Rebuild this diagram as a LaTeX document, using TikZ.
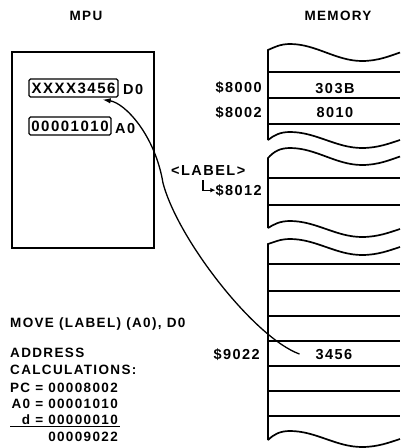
\documentclass[tikz,border=0pt]{standalone}
\usepackage{fontspec}
\setmainfont{Liberation Sans}[LetterSpace=10]
\usetikzlibrary{arrows.meta}
\newcommand\mwave[3]{% #1 mid, #2 amplitude, #3 left y
 (268,#3) .. controls (274,#1-0.6*#2) and (280,#1-#2) .. (290,#1-#2)
 .. controls (316,#1-#2) and (336,#1+#2) .. (362,#1+#2)
 .. controls (378,#1+#2) and (390,#1+0.4*#2) .. (400,#1)}
\begin{document}
\begin{tikzpicture}[x=1pt,y=-1pt,
  txt/.style={inner sep=0pt,font=\fontsize{13.5}{15}\selectfont\bfseries},
  big/.style={inner sep=0pt,font=\fontsize{14.5}{16}\selectfont\bfseries},
  regbox/.style={draw,line width=1.3pt,rounded corners=1.5pt,inner sep=0pt,
     minimum height=18pt,font=\fontsize{15}{17}\selectfont\bfseries},
  mem/.style={line width=1.7pt},
  link/.style={line width=1.3pt,-{Latex[length=8pt,width=5.5pt]}},
  hook/.style={line width=1.3pt,-{Latex[length=5pt,width=4.5pt]}}]
\useasboundingbox (0,0) rectangle (400,448);
% titles
\node[txt,anchor=base] (tmpu) at (86,20) {MPU};
\node[txt,anchor=base] (tmem) at (338,20) {MEMORY};
% MPU box
\draw[line width=1.5pt] (12,52) rectangle (154,248);
\node[regbox,minimum width=89pt] (d0box) at (73.5,88) {XXXX3456};
\node[big,anchor=base west] (d0) at (123,94) {D0};
\node[regbox,minimum width=82pt] (a0box) at (70,126) {00001010};
\node[big,anchor=base west] (a0) at (115,133) {A0};
% memory section 1
\draw[mem] (268,140) -- \mwave{52.5}{8.5}{50};
\draw[mem] \mwave{140}{8}{140};
\foreach \yy in {72,98,124} \draw[mem] (268,\yy) -- (400,\yy);
% memory section 2
\draw[mem] (268,228) -- \mwave{156.5}{8.5}{158};
\draw[mem] \mwave{229}{8}{228};
\foreach \yy in {178,205} \draw[mem] (268,\yy) -- (400,\yy);
% memory section 3
\draw[mem] (268,440) -- \mwave{247}{8}{244};
\draw[mem] \mwave{439}{8}{440};
\foreach \yy in {264,291,316,341,366,391,416} \draw[mem] (268,\yy) -- (400,\yy);
% memory labels and contents
\node[big,anchor=base east] (a8000) at (262,92) {\$8000};
\node[big,anchor=base] (v303b) at (335,93) {303B};
\node[big,anchor=base east] (a8002) at (262,117) {\$8002};
\node[big,anchor=base] (v8010) at (335,117) {8010};
\node[big,anchor=base west] (lbl) at (171,175) {<\kern1.5pt LABEL\kern1.5pt>};
\node[big,anchor=base east] (a8012) at (262,195) {\$8012};
\node[big,anchor=base east] (a9022) at (260,359) {\$9022};
\node[big,anchor=base] (v3456) at (334,359) {3456};
% hook arrow from label to address
\coordinate (hk) at (203,180);
\draw[hook] (hk) |- (a8012.west);
% data path
\draw[link] ([xshift=-16pt]v3456.west) .. controls (255,338) and (178,240) .. (163,183)
   .. controls (155,135) and (125,103) .. ([xshift=-16pt,yshift=-2pt]d0box.south east);
% instruction and calculation
\node[txt,anchor=base west] (instr) at (10,327) {MOVE (LABEL) (A0), D0};
\node[txt,anchor=base west] (addr) at (10,357) {ADDRESS};
\node[txt,anchor=base west] (calc) at (10,374) {CALCULATIONS:};
\node[txt,anchor=base east] (pc) at (118,392) {PC = 00008002};
\node[txt,anchor=base east] (ao) at (118,408) {A0 = 00001010};
\node[txt,anchor=base east] (dd) at (118,424) {d = 00000010};
\draw[line width=1.1pt] (10,426.5) -- (120,426.5);
\node[txt,anchor=base east] (sum) at (118,441) {00009022};
\end{tikzpicture}
\end{document}
